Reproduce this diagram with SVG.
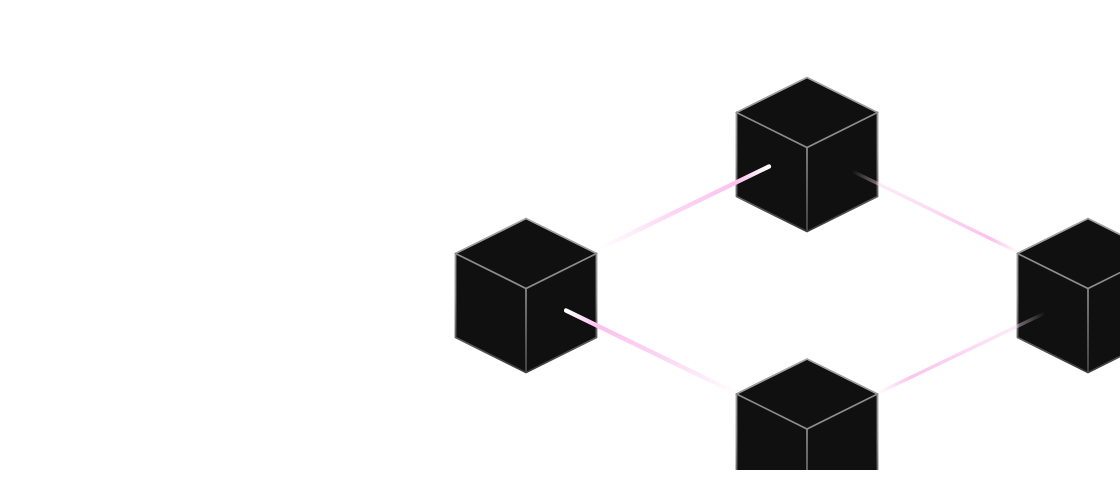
<svg xmlns="http://www.w3.org/2000/svg" xmlns:xlink="http://www.w3.org/1999/xlink" width="1120" height="480" viewBox="0 0 1120 480">
  <style>
    .face { fill: #101010; stroke: url(#edge); stroke-width: 1.8; stroke-linejoin: round; }
    .inner { fill: none; stroke: #8c8c8c; stroke-width: 1.7; stroke-linecap: round; }
    .vert { fill: none; stroke: url(#innerV); stroke-width: 1.7; }
    .beam { fill: none; stroke-linecap: round; }
  </style>
  <defs>
    <clipPath id="view"><rect x="0" y="0" width="1120" height="470"/></clipPath>
    <linearGradient id="edge" x1="0" y1="0" x2="0" y2="1">
      <stop offset="0" stop-color="#a4a4a4"/>
      <stop offset="0.5" stop-color="#8c8c8c"/>
      <stop offset="1" stop-color="#3a3a3a"/>
    </linearGradient>
    <linearGradient id="innerV" gradientUnits="userSpaceOnUse" x1="0" y1="70" x2="0" y2="154">
      <stop offset="0" stop-color="#8e8e8e"/>
      <stop offset="1" stop-color="#4a4a4a"/>
    </linearGradient>
    <g id="cube">
      <path class="face" d="M0,0 L70.5,35 L70.5,119 L0,154 L-70.5,119 L-70.5,35 Z"/>
      <path class="inner" d="M-70.5,35 L0,70 L70.5,35"/>
      <path class="vert" d="M0,70 L0,154"/>
    </g>
    <linearGradient id="g1" gradientUnits="userSpaceOnUse" x1="599" y1="249" x2="769" y2="166.5">
      <stop offset="0" stop-color="#fbc6ef" stop-opacity="0"/>
      <stop offset="0.45" stop-color="#fbc6ef" stop-opacity="0.75"/>
      <stop offset="0.82" stop-color="#fbc2ee" stop-opacity="1"/>
      <stop offset="1" stop-color="#ffffff" stop-opacity="1"/>
    </linearGradient>
    <linearGradient id="g2" gradientUnits="userSpaceOnUse" x1="566" y1="310.5" x2="736" y2="393">
      <stop offset="0" stop-color="#ffffff" stop-opacity="1"/>
      <stop offset="0.18" stop-color="#fbc2ee" stop-opacity="1"/>
      <stop offset="0.55" stop-color="#fbc6ef" stop-opacity="0.75"/>
      <stop offset="1" stop-color="#fbc6ef" stop-opacity="0"/>
    </linearGradient>
    <linearGradient id="g3" gradientUnits="userSpaceOnUse" x1="852" y1="171" x2="1020" y2="253">
      <stop offset="0" stop-color="#ffffff" stop-opacity="0"/>
      <stop offset="0.15" stop-color="#f8d2ef" stop-opacity="0.45"/>
      <stop offset="0.55" stop-color="#fbc6ef" stop-opacity="0.75"/>
      <stop offset="0.83" stop-color="#fabeec" stop-opacity="0.95"/>
      <stop offset="1" stop-color="#fbc6ef" stop-opacity="0"/>
    </linearGradient>
    <linearGradient id="g4" gradientUnits="userSpaceOnUse" x1="1045" y1="313" x2="876" y2="394">
      <stop offset="0" stop-color="#ffffff" stop-opacity="0"/>
      <stop offset="0.16" stop-color="#f8d2ef" stop-opacity="0.45"/>
      <stop offset="0.55" stop-color="#fbc6ef" stop-opacity="0.8"/>
      <stop offset="0.8" stop-color="#fabeec" stop-opacity="0.9"/>
      <stop offset="1" stop-color="#fbc6ef" stop-opacity="0"/>
    </linearGradient>
  </defs>
  <rect width="1120" height="480" fill="#ffffff"/>
  <g clip-path="url(#view)">
    <g id="node-left"><use xlink:href="#cube" href="#cube" x="526" y="218.5"/></g>
    <g id="node-top"><use xlink:href="#cube" href="#cube" x="807" y="77.5"/></g>
    <g id="node-right"><use xlink:href="#cube" href="#cube" x="1088" y="218.5"/></g>
    <g id="node-bottom"><use xlink:href="#cube" href="#cube" x="807" y="359"/></g>
    <g id="connectors">
      <line class="beam" x1="599" y1="249" x2="769" y2="166.5" stroke="url(#g1)" stroke-width="4.2"/>
      <line class="beam" x1="566" y1="310.5" x2="736" y2="393" stroke="url(#g2)" stroke-width="4.2"/>
      <line class="beam" x1="852" y1="171" x2="1020" y2="253" stroke="url(#g3)" stroke-width="3.4"/>
      <line class="beam" x1="1045" y1="313" x2="876" y2="394" stroke="url(#g4)" stroke-width="3.4"/>
    </g>
  </g>
</svg>
